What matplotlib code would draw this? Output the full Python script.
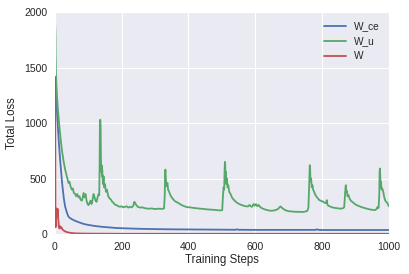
import matplotlib
matplotlib.use("Agg")
import matplotlib.pyplot as plt
import seaborn as sns

# W_ce curve (step, loss)
ce_steps = [0, 1, 2, 4, 6, 8, 11, 13, 16, 19, 21, 24, 27, 31, 34, 37, 41, 45, 50, 60, 70, 81,
            90, 100, 120, 140, 160, 180, 200, 250, 300, 350, 400, 500, 540, 545, 550,
            600, 700, 780, 785, 790, 800, 900, 1000]
ce_loss = [1650, 1600, 1480, 1330, 1120, 1020, 877, 790, 667, 560, 486, 400, 320, 246, 215,
           185, 156, 145, 135, 120, 108, 96, 88, 82, 72, 65, 60, 55, 52, 47, 44, 42, 41, 39,
           38, 42, 38, 37, 37, 37, 42, 37, 36, 36, 36]

# W_u curve (step, loss)
u_steps = [0, 1, 2, 3, 4, 5, 6, 8, 11, 14, 17, 21, 26, 31, 36, 41, 44, 47, 51, 54, 57, 61,
           64, 67, 71, 74, 77, 81, 83, 86, 89, 92, 95, 98, 101, 104, 107, 110, 113, 116, 119,
           122, 125, 128, 131, 133, 134, 135, 136, 137, 138, 139, 140, 141, 142, 144, 146, 148,
           150, 153, 156, 160, 164, 168, 172, 176, 180, 185, 190, 195, 200, 205, 210, 215, 220,
           225, 230, 235, 238, 241, 244, 248, 255, 262, 270, 280, 290, 300, 310, 320, 327, 329,
           330, 331, 332, 333, 335, 337, 339, 342, 346, 350, 355, 360, 366, 372, 380, 388, 395,
           405, 415, 425, 435, 445, 455, 465, 475, 485, 495, 501, 503, 505, 507, 508, 509, 510,
           511, 512, 513, 515, 517, 519, 522, 526, 530, 535, 540, 546, 552, 558, 565, 572, 578,
           583, 586, 590, 595, 598, 602, 606, 610, 614, 620, 628, 636, 644, 652, 660, 668, 672,
           676, 680, 686, 692, 700, 710, 720, 730, 740, 750, 756, 759, 761, 763, 764, 765, 767,
           769, 771, 773, 776, 780, 785, 790, 795, 800, 806, 810, 813, 814, 815, 818, 824, 830,
           838, 846, 855, 862, 866, 868, 870, 871, 872, 874, 876, 879, 882, 886, 890, 896, 902,
           910, 918, 926, 934, 942, 950, 958, 963, 966, 969, 971, 972, 973, 974, 975, 976, 978,
           980, 983, 986, 989, 992, 995, 998, 1000]
u_loss = [1880, 1890, 1800, 1420, 1420, 1330, 1270, 1180, 1060, 960, 870, 760, 660, 580, 520,
          460, 470, 430, 400, 410, 370, 360, 340, 360, 330, 340, 310, 300, 320, 370, 330, 360,
          300, 270, 260, 280, 300, 270, 310, 360, 330, 300, 290, 330, 360, 350, 600, 1000, 1030,
          980, 700, 560, 620, 520, 580, 450, 520, 420, 450, 380, 400, 340, 320, 310, 290, 280,
          265, 260, 250, 245, 250, 240, 245, 250, 238, 245, 240, 255, 290, 275, 260, 245, 238,
          240, 232, 228, 230, 225, 228, 226, 230, 350, 540, 580, 520, 460, 430, 460, 400, 380,
          350, 330, 310, 295, 285, 275, 260, 250, 242, 240, 235, 232, 228, 226, 222, 220, 218,
          215, 212, 215, 330, 420, 400, 560, 650, 620, 480, 560, 450, 500, 420, 440, 380, 360,
          330, 310, 295, 280, 270, 262, 255, 250, 248, 262, 250, 245, 270, 255, 270, 250, 262,
          245, 232, 222, 215, 210, 210, 215, 225, 240, 248, 235, 222, 212, 205, 203, 200, 200,
          198, 202, 210, 240, 420, 620, 600, 480, 500, 420, 440, 400, 380, 350, 330, 310, 300,
          295, 285, 278, 290, 305, 275, 255, 248, 240, 235, 232, 228, 232, 240, 330, 420, 440,
          380, 390, 340, 350, 320, 300, 290, 275, 262, 252, 242, 235, 228, 222, 218, 215, 225,
          245, 235, 350, 560, 590, 520, 420, 470, 400, 410, 380, 330, 300, 290, 280, 260, 250]

# W curve (step, loss)
w_steps = [0, 1, 2, 3, 4, 5, 6, 7, 8, 9, 10, 11, 12, 14, 16, 18, 20, 22, 25, 30, 35, 40,
           50, 60, 80, 120, 200, 1000]
w_loss = [1420, 1410, 60, 80, 150, 200, 230, 160, 220, 225, 140, 120, 60, 50, 70, 55, 60,
          45, 35, 25, 18, 14, 9, 6, 4, 3, 2, 2]

sns.set_style("darkgrid")
plt.rcParams['font.family'] = ['Liberation Sans', 'DejaVu Sans']
plt.rcParams['path.simplify'] = False

fig = plt.figure(figsize=(4.09, 2.74), dpi=100)
ax = fig.add_axes([0.134, 0.146, 0.817, 0.81])

ax.plot(ce_steps, ce_loss, color='#4C72B0', lw=1.3, label='W_ce')
ax.plot(u_steps, u_loss, color='#55A868', lw=1.3, label='W_u')
ax.plot(w_steps, w_loss, color='#C44E52', lw=1.3, label='W', zorder=5)

ax.set_xlim(0, 1000)
ax.set_ylim(0, 2000)
ax.set_xticks([0, 200, 400, 600, 800, 1000])
ax.set_yticks([0, 500, 1000, 1500, 2000])
ax.tick_params(labelsize=7.5, colors='#262626', pad=2)
ax.set_xlabel('Training Steps', fontsize=8.3, color='#262626', labelpad=2)
ax.set_ylabel('Total Loss', fontsize=8.3, color='#262626', labelpad=4)
ax.legend(loc='upper right', frameon=False, fontsize=7.3, handlelength=2.2)

fig.savefig('out.png', dpi=100)
